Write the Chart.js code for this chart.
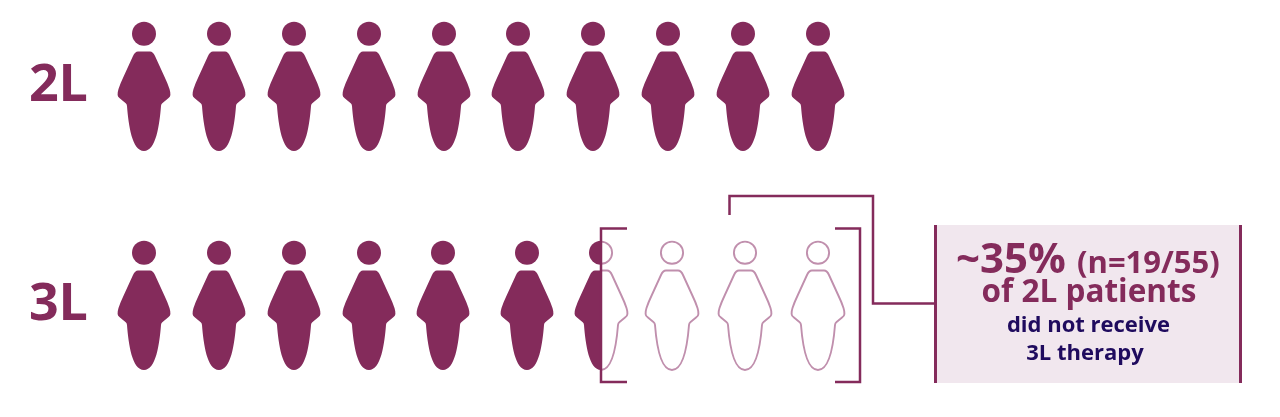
<!DOCTYPE html>
<html>
<head>
<meta charset="utf-8">
<title>2L to 3L therapy</title>
<script src="https://cdn.jsdelivr.net/npm/chart.js@4/dist/chart.umd.min.js"></script>
<style>
  html, body { margin: 0; padding: 0; background: #fff; }
  #chart { display: block; }
</style>
</head>
<body>
<canvas id="chart" width="1280" height="417"></canvas>
<script>
"use strict";

const rowLabels = ["2L", "3L"];
const slots2L = [1, 2, 3, 4, 5, 6, 7, 8, 9, 10];
const slots3L = [1, 2, 3, 4, 4.99, 6.11, 7.1, 8.05, 9.03, 10];
// how much of each figure is filled in
const filled2L = [1, 1, 1, 1, 1, 1, 1, 1, 1, 1];
const filled3L = [1, 1, 1, 1, 1, 1, 0.5, 0, 0, 0];

const calloutBig = "~35%";
const calloutSmall = "(n=19/55)";
const calloutMiddle = "of 2L patients";
const calloutLines = ["did not receive", "3L therapy"];

const plum = "#842b5b";
const paleLine = "#c08fad";
const boxFill = "#f1e7ee";
const navy = "#1f0b5e";
const fontName = '"Open Sans", sans-serif';

const iconWidth = 60;
const iconHeight = 140;

function bodyPath() {
  // right half first, then the mirror of it, origin is the middle of the figure
  const p = new Path2D();
  p.moveTo(-6, -34.5);
  p.lineTo(6, -34.5);
  p.quadraticCurveTo(9, -34.5, 11, -30);
  p.lineTo(20.6, -9);
  p.quadraticCurveTo(23.5, -3, 25.5, 3);
  p.quadraticCurveTo(26.5, 6, 26.4, 9);
  p.quadraticCurveTo(26.3, 11, 24.3, 12.3);
  p.lineTo(18.3, 17.2);
  p.quadraticCurveTo(17.2, 18, 17, 20);
  p.bezierCurveTo(15.5, 39, 12, 65, 0, 65);
  p.bezierCurveTo(-12, 65, -15.5, 39, -17, 20);
  p.quadraticCurveTo(-17.2, 18, -18.3, 17.2);
  p.lineTo(-24.3, 12.3);
  p.quadraticCurveTo(-26.3, 11, -26.4, 9);
  p.quadraticCurveTo(-26.5, 6, -25.5, 3);
  p.quadraticCurveTo(-23.5, -3, -20.6, -9);
  p.lineTo(-11, -30);
  p.quadraticCurveTo(-9, -34.5, -6, -34.5);
  p.closePath();
  return p;
}

function makeFigure(share) {
  const icon = document.createElement("canvas");
  icon.width = iconWidth;
  icon.height = iconHeight;
  const c = icon.getContext("2d");
  c.translate(iconWidth / 2, iconHeight / 2);
  const body = bodyPath();
  const split = iconWidth * share;

  if (share < 1) {
    c.save();
    c.beginPath();
    c.rect(-iconWidth / 2 + split, -iconHeight / 2, iconWidth - split, iconHeight);
    c.clip();
    c.strokeStyle = paleLine;
    c.lineWidth = 1.9;
    c.stroke(body);
    c.beginPath();
    c.arc(0, -52.3, 11.1, 0, Math.PI * 2);
    c.stroke();
    c.restore();
  }
  if (share > 0) {
    c.save();
    c.beginPath();
    c.rect(-iconWidth / 2, -iconHeight / 2, split, iconHeight);
    c.clip();
    c.fillStyle = plum;
    c.fill(body);
    c.beginPath();
    c.arc(0, -52.3, 12, 0, Math.PI * 2);
    c.fill();
    c.restore();
  }
  return icon;
}

function figureStyle(shares) {
  return function (context) {
    return makeFigure(shares[context.dataIndex]);
  };
}

function polyline(ctx, points) {
  ctx.beginPath();
  points.forEach(function (pt, i) {
    if (i === 0) ctx.moveTo(pt[0], pt[1]);
    else ctx.lineTo(pt[0], pt[1]);
  });
  ctx.stroke();
}

const calloutPlugin = {
  id: "callout",
  beforeDatasetsDraw(chart) {
    // keeps the figure edges from going soft at fractional pixels
    chart.ctx.imageSmoothingEnabled = false;
  },
  afterDatasetsDraw(chart) {
    const ctx = chart.ctx;
    ctx.save();

    ctx.fillStyle = boxFill;
    ctx.fillRect(934, 225, 308, 158);

    ctx.strokeStyle = plum;
    ctx.lineWidth = 2.5;
    polyline(ctx, [[627, 228.5], [601, 228.5], [601, 382], [627, 382]]);
    polyline(ctx, [[835, 228.5], [860, 228.5], [860, 382], [835, 382]]);
    polyline(ctx, [[729.5, 215], [729.5, 196], [873, 196], [873, 303.5], [935, 303.5]]);
    ctx.lineWidth = 3;
    polyline(ctx, [[935.5, 225], [935.5, 383]]);
    polyline(ctx, [[1240.5, 225], [1240.5, 383]]);

    ctx.fillStyle = plum;
    ctx.textBaseline = "alphabetic";
    ctx.textAlign = "left";
    ctx.font = "700 42px " + fontName;
    ctx.fillText(calloutBig, 956, 273);
    ctx.font = "700 31px " + fontName;
    ctx.fillText(calloutSmall, 1077, 273);

    ctx.textAlign = "center";
    ctx.font = "700 31.5px " + fontName;
    ctx.fillText(calloutMiddle, 1089, 302);

    ctx.fillStyle = navy;
    ctx.font = "700 22px " + fontName;
    ctx.fillText(calloutLines[0], 1088.5, 332);
    ctx.fillText(calloutLines[1], 1085, 360);

    ctx.restore();
  }
};

function rowPoints(slots, row) {
  return slots.map(function (slot) {
    return { x: slot, y: row };
  });
}

new Chart(document.getElementById("chart"), {
  type: "scatter",
  data: {
    datasets: [
      {
        label: rowLabels[0],
        data: rowPoints(slots2L, 1),
        pointStyle: figureStyle(filled2L),
        clip: false
      },
      {
        label: rowLabels[1],
        data: rowPoints(slots3L, 2),
        pointStyle: figureStyle(filled3L),
        clip: false
      }
    ]
  },
  plugins: [calloutPlugin],
  options: {
    responsive: false,
    animation: false,
    events: [],
    layout: { padding: 0, autoPadding: false },
    plugins: {
      legend: { display: false },
      tooltip: { enabled: false }
    },
    scales: {
      x: {
        type: "linear",
        display: false,
        min: 0.405,
        max: 16.184
      },
      y: {
        type: "linear",
        reverse: true,
        min: 0.607,
        max: 2.511,
        afterFit(scale) {
          // the row labels sit well inside the plot, no room needed for them
          scale.width = 100;
          scale.paddingTop = 0;
          scale.paddingBottom = 0;
        },
        afterBuildTicks(scale) {
          scale.ticks = rowLabels.map(function (label, i) {
            return { value: i + 1 };
          });
        },
        grid: { display: false, drawTicks: false },
        border: { display: false },
        ticks: {
          padding: 12,
          color: plum,
          font: { family: "Open Sans", size: 52, weight: "700" },
          callback(value) {
            return rowLabels[value - 1];
          }
        }
      }
    }
  }
});
</script>
</body>
</html>
